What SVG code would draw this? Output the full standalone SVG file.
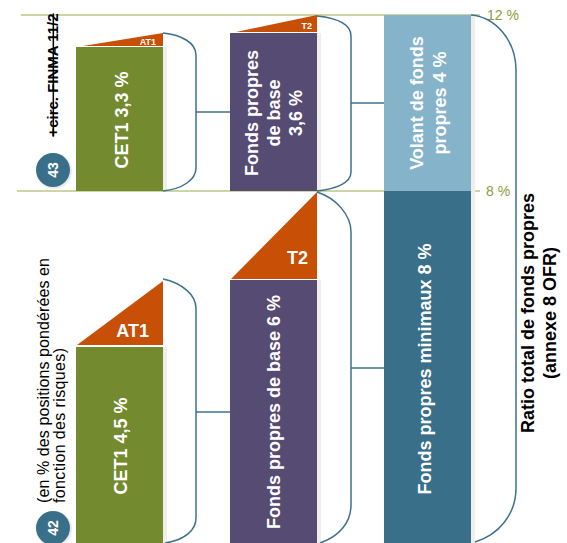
<svg xmlns="http://www.w3.org/2000/svg" width="567" height="543" viewBox="0 0 567 543">
<style>
.lbl{font-family:"Liberation Sans",Arial,sans-serif;font-weight:bold;fill:#ffffff;font-size:18px;text-anchor:middle}
.tri{font-family:"Liberation Sans",Arial,sans-serif;font-weight:bold;fill:#ffffff;text-anchor:end}
.brace{fill:none;stroke:#3b7090;stroke-width:1.5}
.grid{stroke:#9aad4a;stroke-width:1.2}
.pct{font-family:"Liberation Sans",Arial,sans-serif;font-size:14px;fill:#8a9e36}
.shadow{fill:#efeee9}
.green{fill:#748a2f}
.purple{fill:#564b73}
.orange{fill:#c84f06}
.lblue{fill:#84b3ca}
.teal{fill:#3a6f89}
.blk{font-family:"Liberation Sans",Arial,sans-serif;fill:#000000}
.circ{fill:#3a6f89}
</style>
<rect width="567" height="543" fill="#ffffff"/>

<g id="gridlines">
  <line class="grid" x1="21" y1="15" x2="480" y2="15"/>
  <line class="grid" x1="17" y1="191" x2="480" y2="191"/>
  <text class="pct" x="487" y="20">12 %</text>
  <text class="pct" x="486" y="196">8 %</text>
</g>

<g id="cet1-top">
  <rect class="shadow" x="163" y="47" width="4" height="144"/>
  <rect class="green" x="76" y="47" width="87" height="144"/>
  <polygon class="orange" points="83,46 163,33 163,46"/>
  <text class="tri" x="156" y="45" font-size="9">AT1</text>
  <text class="lbl" transform="translate(128,120) rotate(-90)">CET1 3,3 %</text>
</g>

<g id="fpb-top">
  <rect class="shadow" x="317" y="33" width="4" height="158"/>
  <rect class="purple" x="230" y="33" width="87" height="158"/>
  <polygon class="orange" points="236,32 317,15 317,32"/>
  <text class="tri" x="312" y="29" font-size="9">T2</text>
  <text class="lbl" transform="translate(258,113) rotate(-90)"><tspan x="0" y="0">Fonds propres</tspan><tspan x="0" y="22">de base</tspan><tspan x="0" y="44">3,6 %</tspan></text>
</g>

<g id="volant">
  <rect class="shadow" x="471" y="15" width="4" height="176"/>
  <rect class="lblue" x="384" y="15" width="87" height="176"/>
  <text class="lbl" transform="translate(423,103) rotate(-90)"><tspan x="0" y="0">Volant de fonds</tspan><tspan x="0" y="23">propres 4 %</tspan></text>
</g>

<g id="cet1-bottom">
  <rect class="shadow" x="163" y="347" width="4" height="196"/>
  <rect class="green" x="76" y="347" width="87" height="196"/>
  <polygon class="orange" points="77,345 163,281 163,345"/>
  <text class="tri" x="149" y="337" font-size="18">AT1</text>
  <text class="lbl" transform="translate(127,446) rotate(-90)">CET1 4,5 %</text>
</g>

<g id="fpb-bottom">
  <rect class="shadow" x="317" y="280" width="4" height="263"/>
  <rect class="purple" x="230" y="280" width="87" height="263"/>
  <polygon class="orange" points="231,279 317,192 317,279"/>
  <text class="tri" x="308" y="264" font-size="18">T2</text>
  <text class="lbl" transform="translate(280,412) rotate(-90)">Fonds propres de base 6 %</text>
</g>

<g id="minimaux">
  <rect class="shadow" x="471" y="191" width="4" height="352"/>
  <rect class="teal" x="384" y="191" width="87" height="352"/>
  <text class="lbl" transform="translate(431,369) rotate(-90)">Fonds propres minimaux 8 %</text>
</g>

<g id="badge-43">
  <circle cx="54" cy="171" r="18" fill="#e9ecef"/>
  <circle class="circ" cx="53" cy="170" r="17"/>
  <text class="blk" transform="translate(58,170) rotate(-90)" text-anchor="middle" font-size="14" font-weight="bold" fill="#ffffff" style="fill:#ffffff">43</text>
</g>

<g id="badge-42">
  <circle cx="54" cy="529" r="18" fill="#e9ecef"/>
  <circle class="circ" cx="53" cy="528" r="17"/>
  <text class="blk" transform="translate(58,528) rotate(-90)" text-anchor="middle" font-size="14" font-weight="bold" style="fill:#ffffff">42</text>
</g>

<g id="circ-note">
  <text class="blk" transform="translate(58,75) rotate(-90)" text-anchor="middle" font-size="15" font-weight="bold" text-decoration="line-through">+circ. FINMA 11/2</text>
</g>

<g id="unit-note">
  <text class="blk" transform="translate(49,503) rotate(-90)" font-size="16"><tspan x="0" y="0" textLength="245" lengthAdjust="spacing">(en % des positions pondérées en</tspan><tspan x="0" y="16" textLength="155" lengthAdjust="spacing">fonction des risques)</tspan></text>
</g>

<g id="ratio-total">
  <text class="blk" transform="translate(534,313) rotate(-90)" text-anchor="middle" font-size="18" font-weight="bold"><tspan x="0" y="0">Ratio total de fonds propres</tspan><tspan x="0" y="22">(annexe 8 OFR)</tspan></text>
</g>

<g id="connectors">
  <path class="brace" d="M163,33 C182,35 196,43 196,55 L196,168 C196,180 182,189 163,191"/>
  <path class="brace" d="M196,112 H230"/>
  <path class="brace" d="M317,16 C336,18 351,24 351,36 L351,172 C351,183 336,189 317,191"/>
  <path class="brace" d="M351,103 H384"/>
  <path class="brace" d="M163,279 C182,283 196,295 196,308 L196,518 C196,530 185,540 165,543"/>
  <path class="brace" d="M196,412 H230"/>
  <path class="brace" d="M317,192 C336,198 351,215 351,232 L351,505 C351,522 340,536 320,543"/>
  <path class="brace" d="M351,368 H384"/>
  <path class="brace" d="M471,15 C495,17 516,40 516,70 L516,488 C516,515 498,535 475,542"/>
</g>
</svg>
